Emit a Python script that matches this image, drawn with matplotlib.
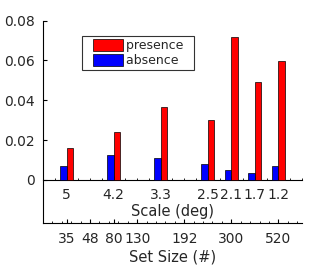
import matplotlib
matplotlib.use("Agg")
import matplotlib.pyplot as plt
from matplotlib.ticker import MultipleLocator
from matplotlib.patches import Rectangle
from matplotlib.legend_handler import HandlerPatch

# data
positions = [1, 3, 5, 7, 8, 9, 10]
scale_labels = ["5", "4.2", "3.3", "2.5", "2.1", "1.7", "1.2"]
presence = [0.0159, 0.0239, 0.0365, 0.0300, 0.0717, 0.0491, 0.0596]
absence = [0.0069, 0.0124, 0.0109, 0.0079, 0.0049, 0.0033, 0.0069]
setsize_pos = [1, 2, 3, 4, 6, 8, 10]
setsize_labels = ["35", "48", "80", "130", "192", "300", "520"]
yticks = [0, 0.02, 0.04, 0.06, 0.08]

tc = "#262626"
plt.rcParams["font.family"] = "DejaVu Sans"

fig = plt.figure(figsize=(3.34, 2.67), dpi=100)
ax = fig.add_axes([0.1287, 0.1659, 0.904 - 0.1287, 0.9225 - 0.1659])

w = 0.27
bars_a = ax.bar([p - w / 2 for p in positions], absence, width=w, color="#0000FF",
                edgecolor="black", linewidth=0.5, label="absence", zorder=3)
bars_p = ax.bar([p + w / 2 for p in positions], presence, width=w, color="#FF0000",
                edgecolor="black", linewidth=0.5, label="presence", zorder=3)

ymin, ymax = -0.0215, 0.08
ax.set_xlim(0, 11)
ax.set_ylim(ymin, ymax)
for s in ("top", "right"):
    ax.spines[s].set_visible(False)
ax.spines["left"].set_linewidth(0.8)
ax.spines["bottom"].set_linewidth(0.8)

ax.set_yticks(yticks)
ax.set_yticklabels(["0", "0.02", "0.04", "0.06", "0.08"])
ax.tick_params(axis="y", direction="in", length=3, labelsize=10, labelcolor=tc, pad=6)

ax.set_xticks(setsize_pos)
ax.set_xticklabels(setsize_labels)
ax.xaxis.set_minor_locator(MultipleLocator(0.4))
ax.tick_params(axis="x", which="major", direction="in", length=3, labelsize=10,
               labelcolor=tc, pad=6.5)
ax.tick_params(axis="x", which="minor", direction="in", length=1.2)
ax.set_xlabel("Set Size (#)", fontsize=10.5, color=tc, labelpad=3)

loc = (0 - ymin) / (ymax - ymin)
sec = ax.secondary_xaxis(loc)
sec.set_xticks(positions)
sec.set_xticklabels(scale_labels)
sec.xaxis.set_minor_locator(MultipleLocator(0.5))
sec.tick_params(axis="x", which="major", direction="in", length=3, labelsize=10,
                labelcolor=tc, pad=6)
sec.tick_params(axis="x", which="minor", direction="in", length=1.2)
sec.spines["bottom"].set_linewidth(0.8)
sec.set_xlabel("Scale (deg)", fontsize=10.5, color=tc, labelpad=1.5)

OFF = 5.8  # points of left padding inside the legend box


def offset_patch(legend, orig_handle, xdescent, ydescent, width, height, fontsize):
    return Rectangle((-xdescent + OFF, -ydescent), width - OFF, height)


leg = ax.legend([bars_p[0], bars_a[0]], ["presence  ", "absence  "], loc="upper left",
                bbox_to_anchor=(0.1506, 0.924), fontsize=9, frameon=True,
                fancybox=False, edgecolor="black", handlelength=3.05,
                handleheight=1.1, handletextpad=0.2, borderpad=0.25,
                labelspacing=0.1, borderaxespad=0,
                handler_map={Rectangle: HandlerPatch(patch_func=offset_patch)})
leg.get_frame().set_linewidth(0.8)
for t in leg.get_texts():
    t.set_color(tc)

fig.savefig("out.png", dpi=100)
